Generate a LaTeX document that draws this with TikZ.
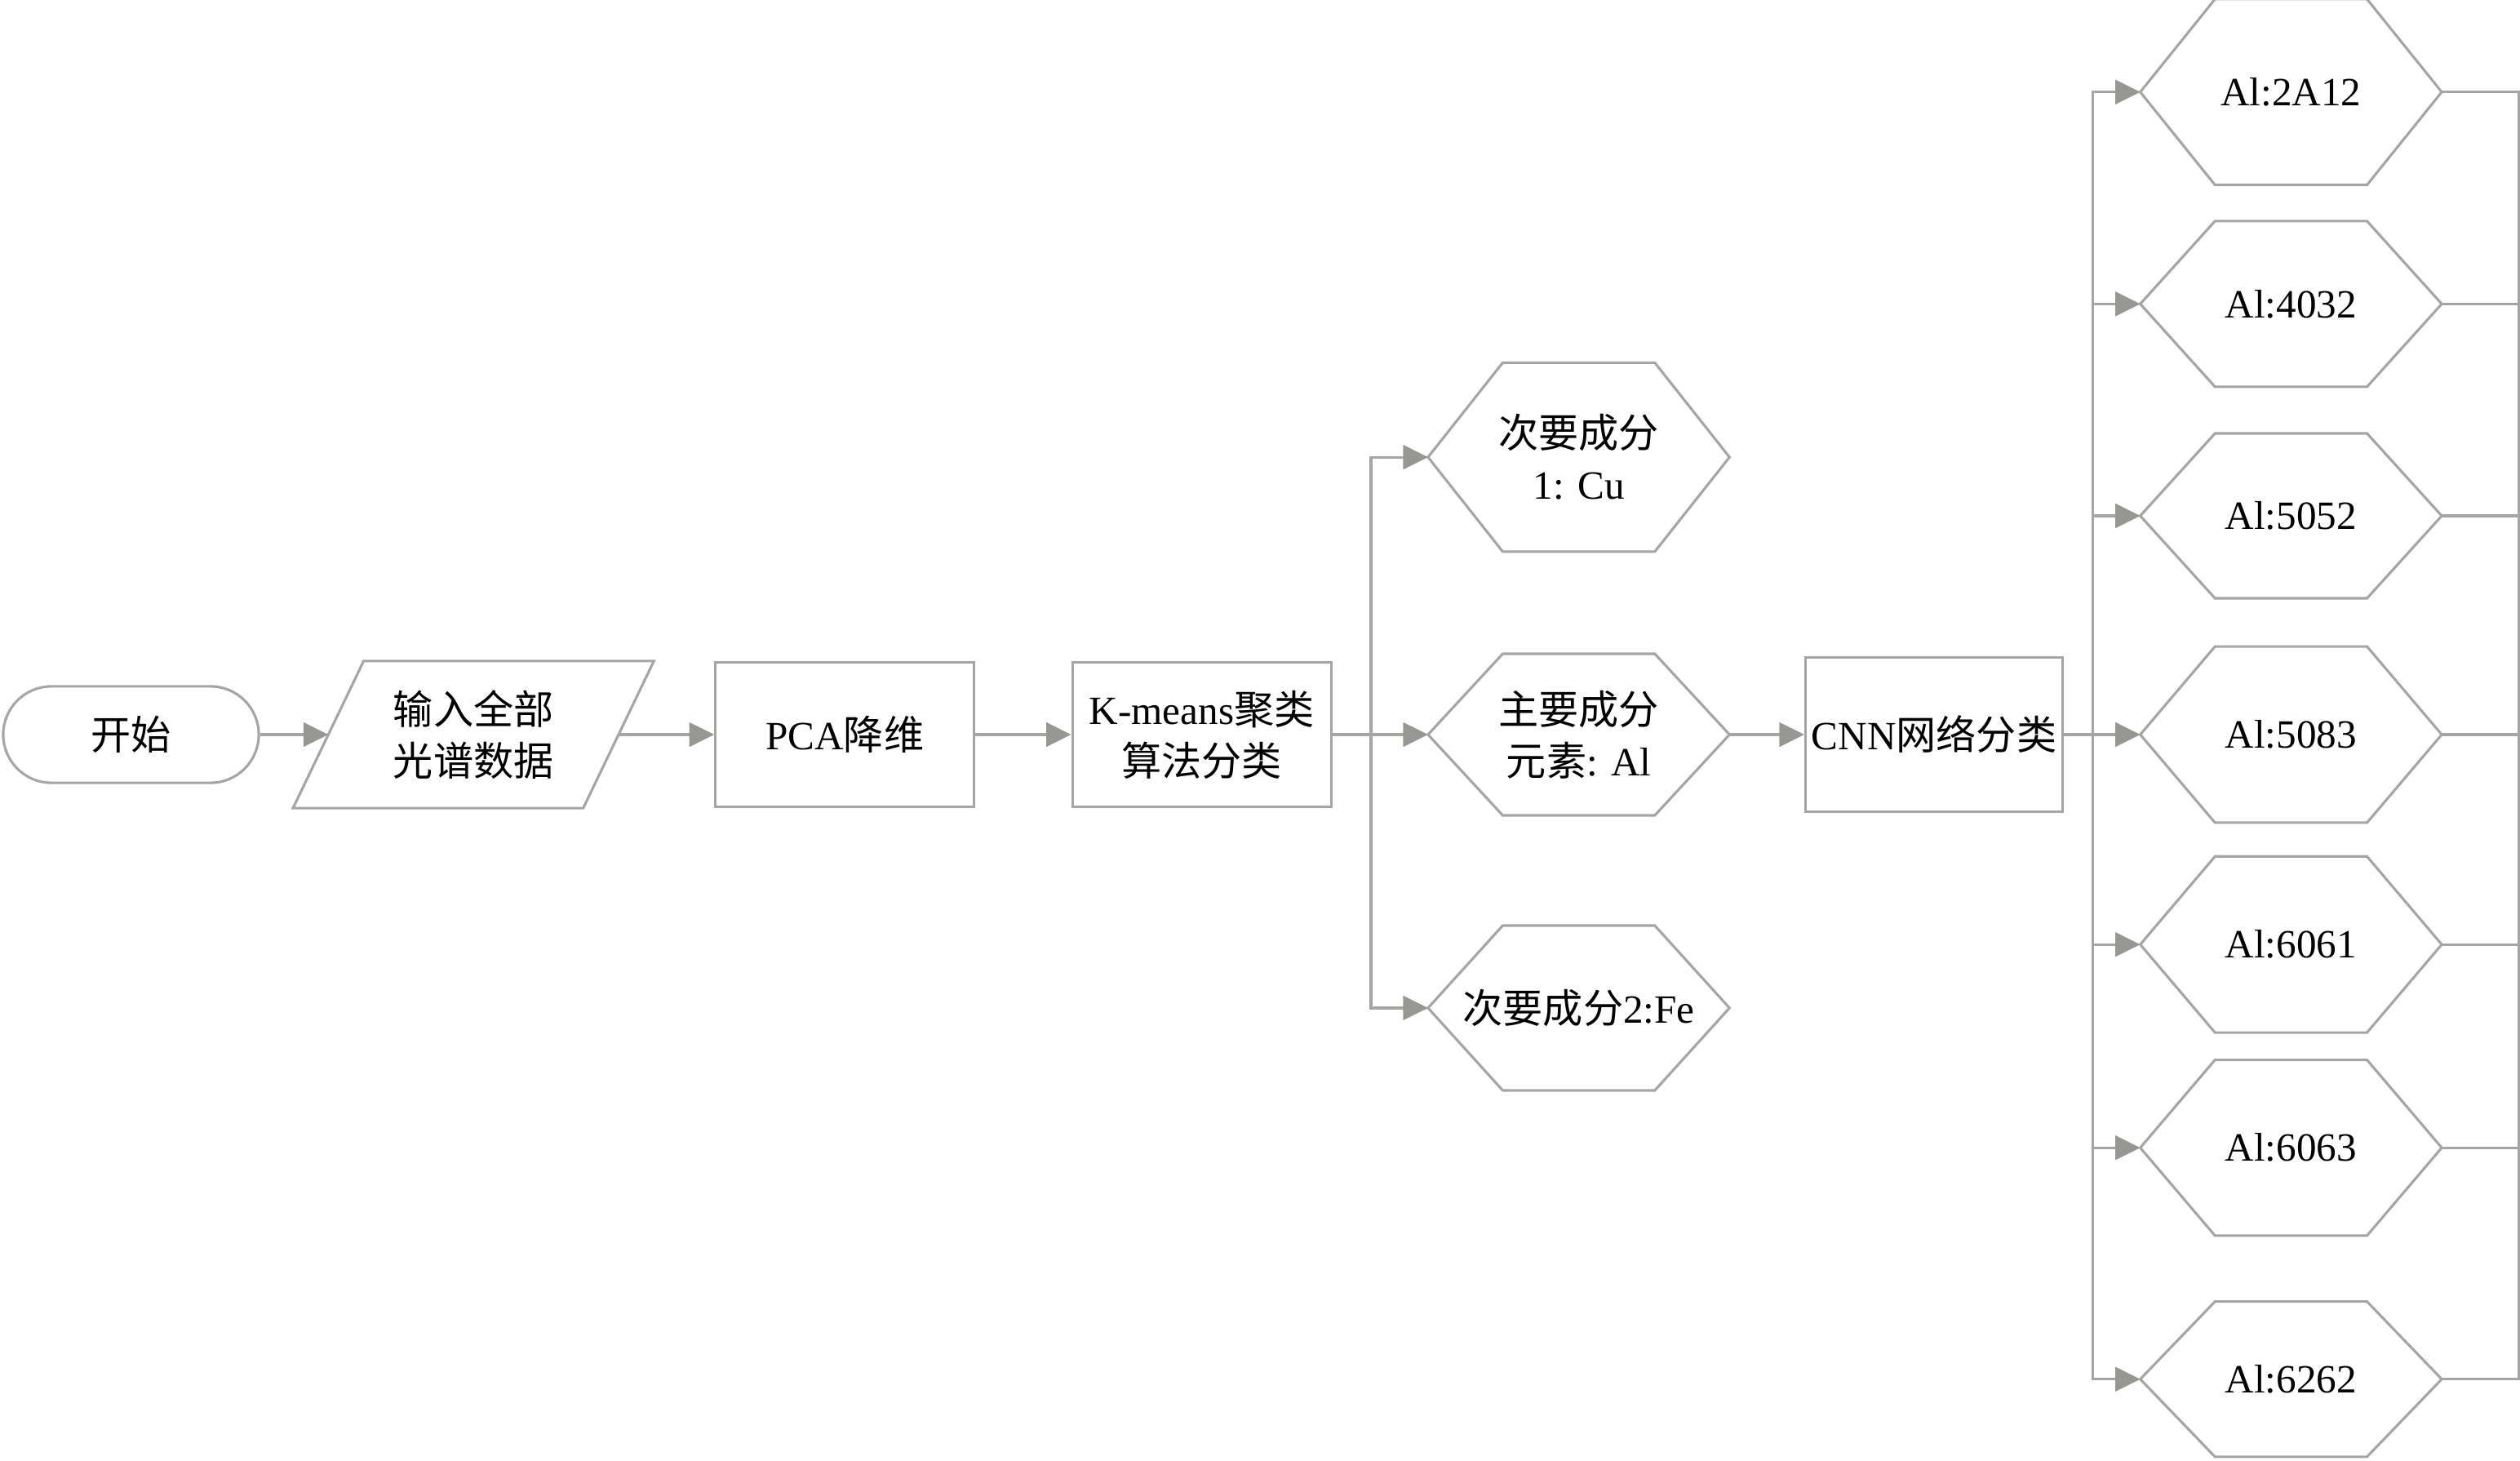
\documentclass[tikz,border=0pt]{standalone}
\usepackage{fontspec}
\setmainfont{Liberation Serif}
\newfontfamily\cjk{Noto Sans CJK SC}
\usetikzlibrary{arrows.meta, positioning, shapes.misc}
\definecolor{linegray}{RGB}{165,165,165}
\definecolor{tipgray}{RGB}{150,150,147}
\tikzstyle{flow}=[linegray, line width=0.9pt, >={Triangle[length=0.31cm,width=0.3cm,color=tipgray]},
  every node/.style={text=black, font=\fontsize{14.2pt}{18.2pt}\selectfont}]
\tikzstyle{term}=[draw, rectangle, rounded corners=0.6cm, minimum width=3.18cm, minimum height=1.2cm]
\tikzstyle{io}=[rectangle, minimum width=4.46cm, minimum height=1.8cm, align=center]
\tikzstyle{box}=[draw, rectangle, minimum width=3.22cm, minimum height=1.8cm, align=center]
\tikzstyle{hexa}=[rectangle, minimum width=3.72cm, align=center]

\begin{document}
\begin{tikzpicture}[flow]
  \useasboundingbox (0,0) rectangle (31.36,-18.17);
  \node[term] (start) at (1.63,-9.14) {\cjk 开始};
  \node[io] (input) [right=0.41cm of start] {{\cjk 输入全部}\\{\cjk 光谱数据}};
  \node[box] (pca) [right=0.75cm of input] {PCA{\cjk 降维}};
  \node[box] (kmeans) [right=1.19cm of pca] {K-means{\cjk 聚类}\\{\cjk 算法分类}};
  \node[hexa,minimum height=1.98cm] (al) [right=1.19cm of kmeans] {{\cjk 主要成分}\\{\cjk 元素}: Al};
  \node[hexa,minimum height=2.32cm] (cu) [above=1.27cm of al] {{\cjk 次要成分}\\1: Cu};
  \node[hexa,minimum height=2.02cm] (fe) [below=1.37cm of al] {{\cjk 次要成分}2:Fe};
  \node[box,minimum width=3.2cm,minimum height=1.92cm,inner xsep=1pt] (cnn) [right=0.93cm of al] {CNN{\cjk 网络分类}};
  \node[hexa,minimum height=2.16cm] (a5083) [right=0.95cm of cnn] {Al:5083};
  \node[hexa,minimum height=2.02cm] (a5052) [above=0.60cm of a5083] {Al:5052};
  \node[hexa,minimum height=2.03cm] (a4032) [above=0.58cm of a5052] {Al:4032};
  \node[hexa,minimum height=2.28cm] (a2A12) [above=0.45cm of a4032] {Al:2A12};
  \node[hexa,minimum height=2.16cm] (a6061) [below=0.42cm of a5083] {Al:6061};
  \node[hexa,minimum height=2.155cm] (a6063) [below=0.34cm of a6061] {Al:6063};
  \node[hexa,minimum height=1.9cm] (a6262) [below=0.82cm of a6063] {Al:6262};

  % parallelogram and hexagon outlines
  \draw ([xshift=0.88cm]input.north west) -- (input.north east)
    -- ([xshift=-0.88cm]input.south east) -- (input.south west) -- cycle;
  \foreach \h in {cu,al,fe,a2A12,a4032,a5052,a5083,a6061,a6063,a6262}
    \draw ([xshift=0.93cm]\h.north west) -- ([xshift=-0.93cm]\h.north east) -- (\h.east)
      -- ([xshift=-0.93cm]\h.south east) -- ([xshift=0.93cm]\h.south west) -- (\h.west) -- cycle;

  \path[->] (start) edge ([xshift=0.44cm]input.west)
            ([xshift=-0.44cm]input.east) edge (pca)
            (pca) edge (kmeans)
            (kmeans) edge (al)
            (al) edge (cnn)
            (cnn) edge (a5083);

  \coordinate[right=0.48cm of kmeans.east] (fork);
  \draw[->] (fork) |- (cu.west);
  \draw[->] (fork) |- (fe.west);

  \coordinate[right=0.36cm of cnn.east] (split);
  \foreach \a in {a2A12,a4032,a5052,a6061,a6063,a6262}
    \draw[->] (split) |- (\a.west);

  \coordinate[right=0.96cm of a2A12.east] (rail);
  \draw (a2A12.east) -- (rail) |- (a6262.east);
  \foreach \a in {a4032,a5052,a5083,a6061,a6063}
    \draw (\a.east) -- (\a.east -| rail);
\end{tikzpicture}
\end{document}
